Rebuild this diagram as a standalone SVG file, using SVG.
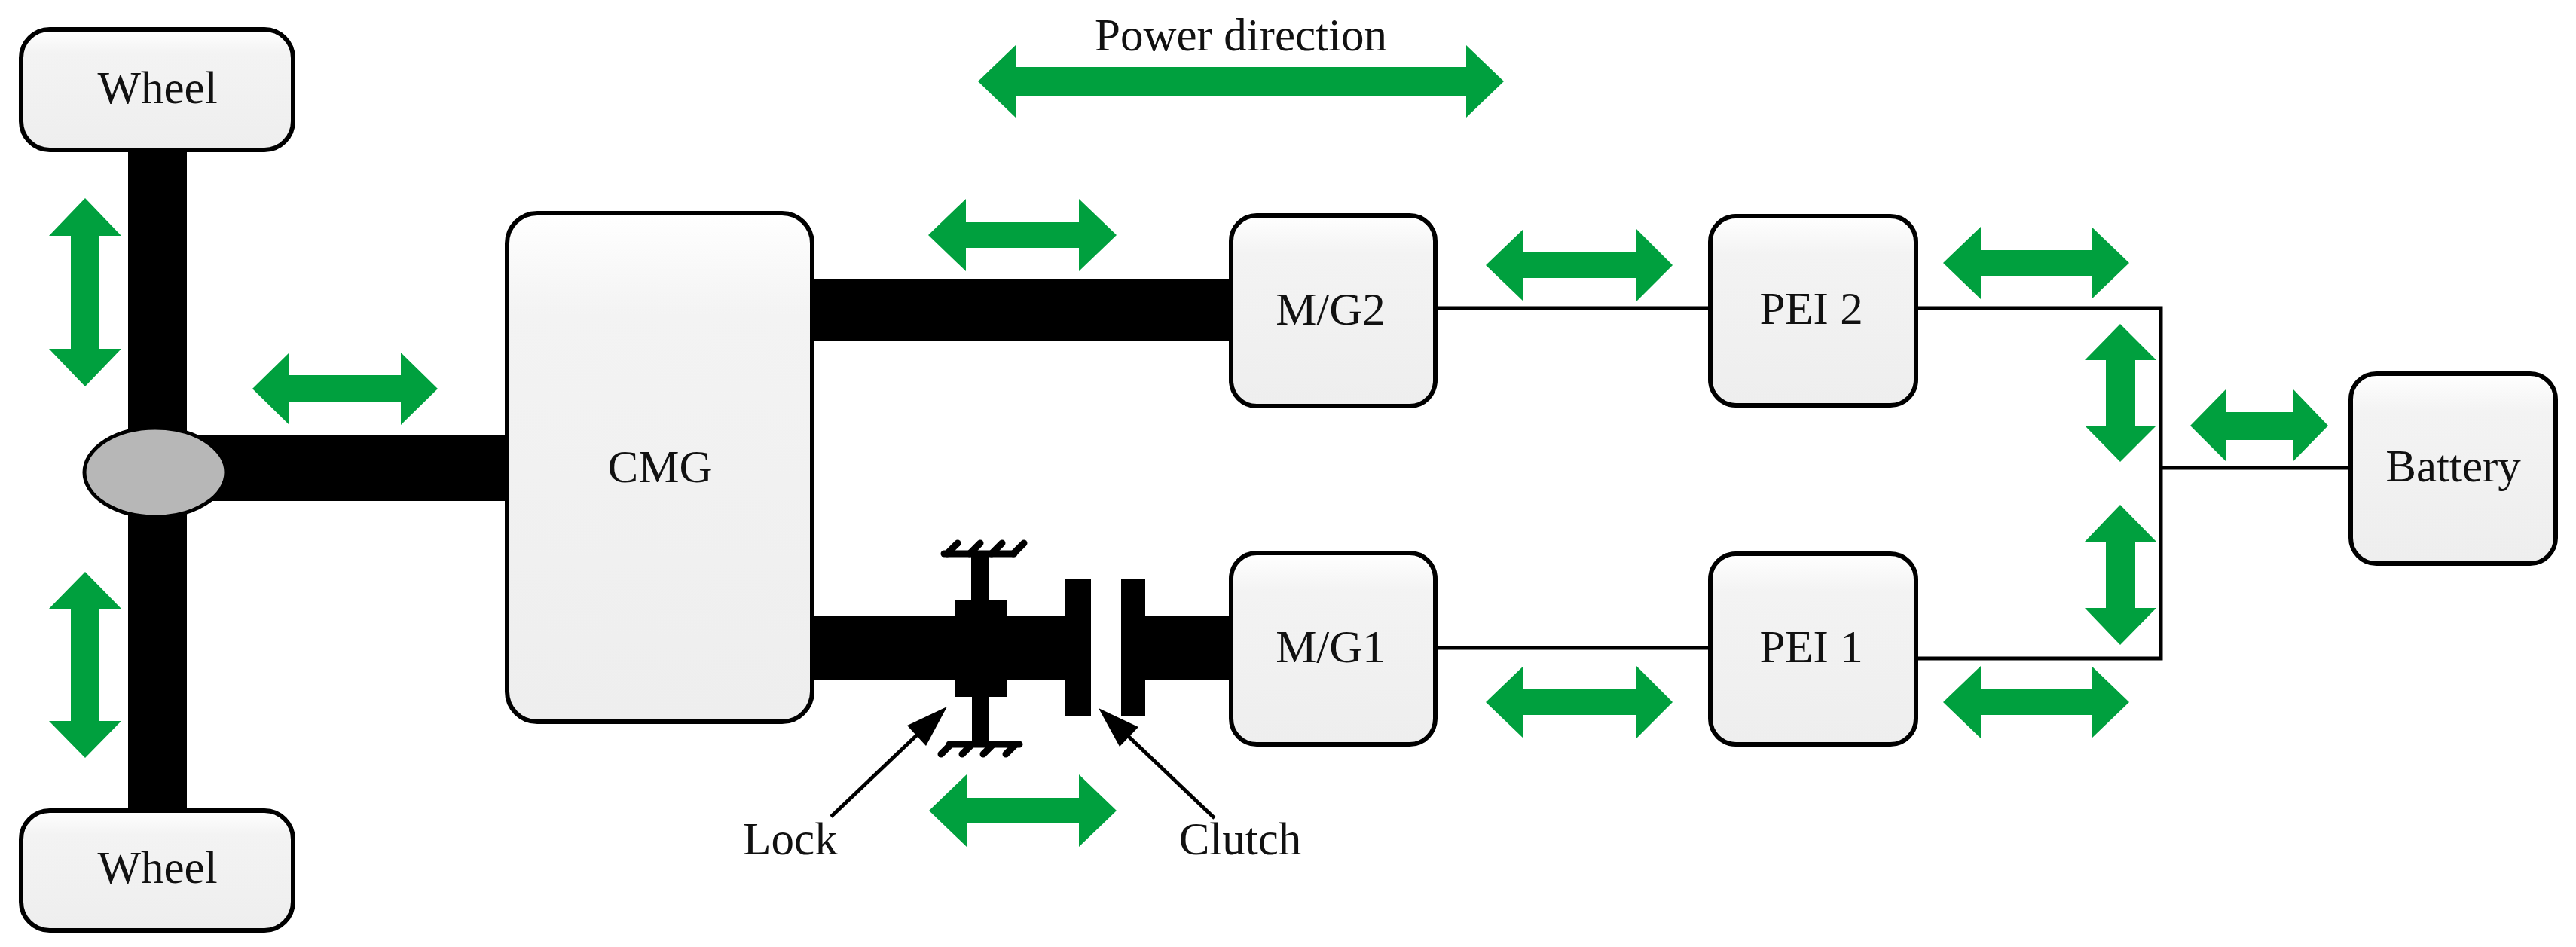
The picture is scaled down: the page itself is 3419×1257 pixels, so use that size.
<svg xmlns="http://www.w3.org/2000/svg" width="3419" height="1257" viewBox="0 0 3419 1257">
<defs>
<linearGradient id="boxfill" x1="0" y1="0" x2="0" y2="1">
<stop offset="0" stop-color="#ffffff"/>
<stop offset="0.2" stop-color="#f3f3f3"/>
<stop offset="1" stop-color="#eeeeee"/>
</linearGradient>
<style>
.box{fill:url(#boxfill);stroke:#000;stroke-width:6}
.lbl{font-family:"Liberation Serif","Times New Roman",serif;font-size:61px;fill:#111;text-anchor:middle}
.shaft{fill:#000}
.wire{fill:none;stroke:#000;stroke-width:5}
.pw{fill:#00a03e}
.ann{stroke:#000;stroke-width:5;fill:none}
.annh{fill:#000}
.gnd{stroke:#000;stroke-width:9;stroke-linecap:round;fill:none}
</style>
</defs>
<rect width="3419" height="1257" fill="#fff"/>

<g id="connectors">
<!-- mechanical shafts -->
<rect class="shaft" x="170" y="195" width="78" height="885"/>
<rect class="shaft" x="240" y="577" width="436" height="88"/>
<rect class="shaft" x="1075" y="370" width="562" height="83"/>
<rect class="shaft" x="1075" y="818" width="342" height="84"/>
<rect class="shaft" x="1517" y="818" width="120" height="85"/>
<!-- electrical wires -->
<line class="wire" x1="1905" y1="409" x2="2270" y2="409"/>
<line class="wire" x1="1905" y1="860" x2="2270" y2="860"/>
<polyline class="wire" points="2543,409 2868,409 2868,874 2543,874"/>
<line class="wire" x1="2868" y1="621" x2="3120" y2="621"/>
<!-- power flow arrows -->
<polygon class="pw" points="1298,108 1348,60 1348,89 1946,89 1946,60 1996,108 1946,156 1946,127 1348,127 1348,156"/>
<polygon class="pw" points="335,516 384,468 384,498 532,498 532,468 581,516 532,564 532,534 384,534 384,564"/>
<polygon class="pw" points="1232,312 1282,264 1282,295 1432,295 1432,264 1482,312 1432,360 1432,329 1282,329 1282,360"/>
<polygon class="pw" points="1972,352 2022,304 2022,335 2172,335 2172,304 2220,352 2172,400 2172,369 2022,369 2022,400"/>
<polygon class="pw" points="1972,932 2022,884 2022,915 2172,915 2172,884 2220,932 2172,980 2172,949 2022,949 2022,980"/>
<polygon class="pw" points="1233,1076 1283,1028 1283,1059 1432,1059 1432,1028 1482,1076 1432,1124 1432,1093 1283,1093 1283,1124"/>
<polygon class="pw" points="2579,349 2629,301 2629,332 2776,332 2776,301 2826,349 2776,397 2776,366 2629,366 2629,397"/>
<polygon class="pw" points="2579,932 2629,884 2629,915 2776,915 2776,884 2826,932 2776,980 2776,949 2629,949 2629,980"/>
<polygon class="pw" points="2907,565 2955,516 2955,547 3043,547 3043,516 3090,565 3043,613 3043,584 2955,584 2955,613"/>
<polygon class="pw" points="113,263 161,313 132,313 132,463 161,463 113,513 65,463 94,463 94,313 65,313"/>
<polygon class="pw" points="113,759 161,808 132,808 132,957 161,957 113,1006 65,957 94,957 94,808 65,808"/>
<polygon class="pw" points="2814,430 2862,478 2834,478 2834,565 2862,565 2814,613 2767,565 2795,565 2795,478 2767,478"/>
<polygon class="pw" points="2814,670 2862,719 2834,719 2834,807 2862,807 2814,856 2767,807 2795,807 2795,719 2767,719"/>
<!-- annotation arrows -->
<line class="ann" x1="1103" y1="1084" x2="1225" y2="968"/>
<polygon class="annh" points="1257,938 1229,990 1204,963"/>
<line class="ann" x1="1612" y1="1086" x2="1490" y2="970"/>
<polygon class="annh" points="1458,940 1511,965 1486,991"/>
</g>

<g id="wheel-top">
<rect class="box" x="28" y="39" width="361" height="160" rx="38" ry="38"/>
<text class="lbl" x="209" y="137">Wheel</text>
</g>
<g id="wheel-bottom">
<rect class="box" x="28" y="1076" width="361" height="159" rx="38" ry="38"/>
<text class="lbl" x="209" y="1172">Wheel</text>
</g>
<g id="differential">
<ellipse cx="206" cy="627" rx="94" ry="59" fill="#b7b7b7" stroke="#000" stroke-width="5"/>
</g>
<g id="cmg">
<rect class="box" x="673" y="283" width="405" height="675" rx="40" ry="40"/>
<text class="lbl" x="876" y="640">CMG</text>
</g>
<g id="mg2">
<rect class="box" x="1634" y="286" width="271" height="253" rx="34" ry="34"/>
<text class="lbl" x="1766" y="431">M/G2</text>
</g>
<g id="mg1">
<rect class="box" x="1634" y="734" width="271" height="254" rx="34" ry="34"/>
<text class="lbl" x="1766" y="879">M/G1</text>
</g>
<g id="pei2">
<rect class="box" x="2270" y="287" width="273" height="251" rx="34" ry="34"/>
<text class="lbl" x="2404" y="430">PEI 2</text>
</g>
<g id="pei1">
<rect class="box" x="2270" y="735" width="273" height="253" rx="34" ry="34"/>
<text class="lbl" x="2404" y="879">PEI 1</text>
</g>
<g id="battery">
<rect class="box" x="3120" y="496" width="272" height="252" rx="34" ry="34"/>
<text class="lbl" x="3256" y="639">Battery</text>
</g>
<g id="lock">
<rect class="shaft" x="1268" y="797" width="69" height="128"/>
<rect class="shaft" x="1289" y="735" width="24" height="65"/>
<rect class="shaft" x="1290" y="922" width="23" height="66"/>
<line class="gnd" x1="1253" y1="735" x2="1346" y2="735"/>
<line class="gnd" x1="1257" y1="735" x2="1271" y2="721"/>
<line class="gnd" x1="1287" y1="735" x2="1301" y2="721"/>
<line class="gnd" x1="1316" y1="735" x2="1330" y2="721"/>
<line class="gnd" x1="1345" y1="735" x2="1359" y2="721"/>
<line class="gnd" x1="1260" y1="988" x2="1353" y2="988"/>
<line class="gnd" x1="1262" y1="988" x2="1249" y2="1001"/>
<line class="gnd" x1="1290" y1="988" x2="1277" y2="1001"/>
<line class="gnd" x1="1318" y1="988" x2="1305" y2="1001"/>
<line class="gnd" x1="1348" y1="988" x2="1335" y2="1001"/>
<text class="lbl" x="1049" y="1134">Lock</text>
</g>
<g id="clutch">
<rect class="shaft" x="1414" y="769" width="34" height="182"/>
<rect class="shaft" x="1488" y="769" width="32" height="182"/>
<text class="lbl" x="1646" y="1134">Clutch</text>
</g>
<g id="power-label">
<text class="lbl" x="1647" y="67">Power direction</text>
</g>
</svg>
